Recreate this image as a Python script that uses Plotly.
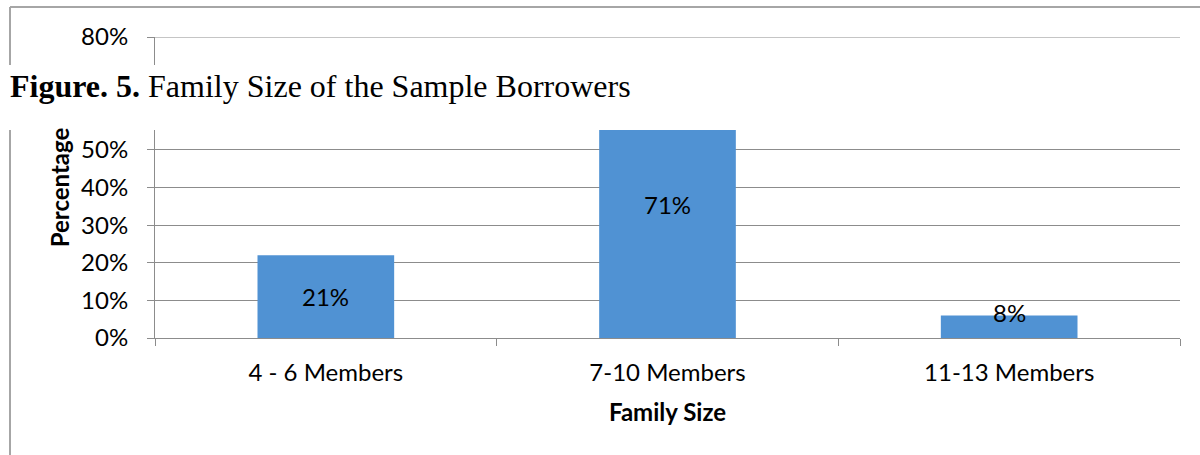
import plotly.graph_objects as go

categories = ["4 - 6 Members", "7-10 Members", "11-13 Members"]
bar_values = [22, 71, 6]          # bar heights as drawn (percent)
label_texts = ["21%", "71%", "8%"]  # data labels as printed
y_ticks = [0, 10, 20, 30, 40, 50, 60, 70, 80]

W, H = 1200, 455
L, R, T, B = 155, 20, 37, 117
pw, ph = W - L - R, H - T - B

def px_x(x):
    return (x - L) / pw

def px_y(y):
    return (H - B - y) / ph

sans = "Lato"
fig = go.Figure()
fig.add_trace(go.Bar(
    x=categories, y=bar_values,
    marker=dict(color="#5092D3", line=dict(width=0)),
    hoverinfo="skip",
))

annotations = []
for c, v, t in zip(categories, bar_values, label_texts):
    annotations.append(dict(
        x=c, y=(v / 2 if v >= 10 else v), xref="x", yref="y", text=t,
        showarrow=False, font=dict(family=sans, size=24, color="black"),
        xanchor="center", yanchor="middle", yshift=(0 if v >= 10 else 3),
    ))
annotations.append(dict(
    x=px_x(8), y=px_y(86), xref="paper", yref="paper",
    text="<b>Figure. 5.</b> Family Size of the Sample Borrowers",
    showarrow=False, xanchor="left", yanchor="middle",
    font=dict(family="Liberation Serif", size=32, color="black"),
))

border = "#A6A6A6"
grid = "#8C8C8C"
shapes = [
    dict(type="line", xref="paper", yref="y", x0=0, x1=1, y0=y_ticks[-1], y1=y_ticks[-1],
         line=dict(color=grid, width=1), layer="below"),
    dict(type="line", xref="paper", yref="paper", x0=px_x(10), x1=px_x(1200),
         y0=px_y(7), y1=px_y(7), line=dict(color=border, width=2), layer="above"),
    dict(type="line", xref="paper", yref="paper", x0=px_x(10), x1=px_x(10),
         y0=px_y(7), y1=px_y(455), line=dict(color=border, width=2), layer="above"),
    dict(type="rect", xref="paper", yref="paper", x0=px_x(0), x1=px_x(1200),
         y0=px_y(130), y1=px_y(65), fillcolor="white", line=dict(width=0), layer="above"),
]

fig.update_layout(
    width=W, height=H,
    margin=dict(l=L, r=R, t=T, b=B, pad=0),
    paper_bgcolor="white", plot_bgcolor="white",
    showlegend=False, bargap=0.6,
    annotations=annotations, shapes=shapes,
    xaxis=dict(
        type="category", showline=True, linecolor=grid, linewidth=1,
        ticks="outside", tickson="boundaries", ticklen=7, tickcolor=grid,
        tickfont=dict(family=sans, size=24, color="black"),
        ticklabelstandoff=13,
        title=dict(text="<b>Family Size</b>", font=dict(family=sans, size=24, color="black"), standoff=19),
        showgrid=False, zeroline=False,
    ),
    yaxis=dict(
        range=[0, 80], tickvals=y_ticks, ticktext=[f"{v}%" for v in y_ticks],
        showline=True, linecolor=grid, linewidth=1,
        ticks="outside", ticklen=7, tickcolor=grid,
        tickfont=dict(family=sans, size=24, color="black"),
        ticklabelstandoff=14,
        showgrid=True, gridcolor=grid, gridwidth=1, zeroline=False,
        title=dict(text="<b>Percentage</b>", font=dict(family=sans, size=24, color="black"), standoff=4),
    ),
)

fig.write_html("out.html")
